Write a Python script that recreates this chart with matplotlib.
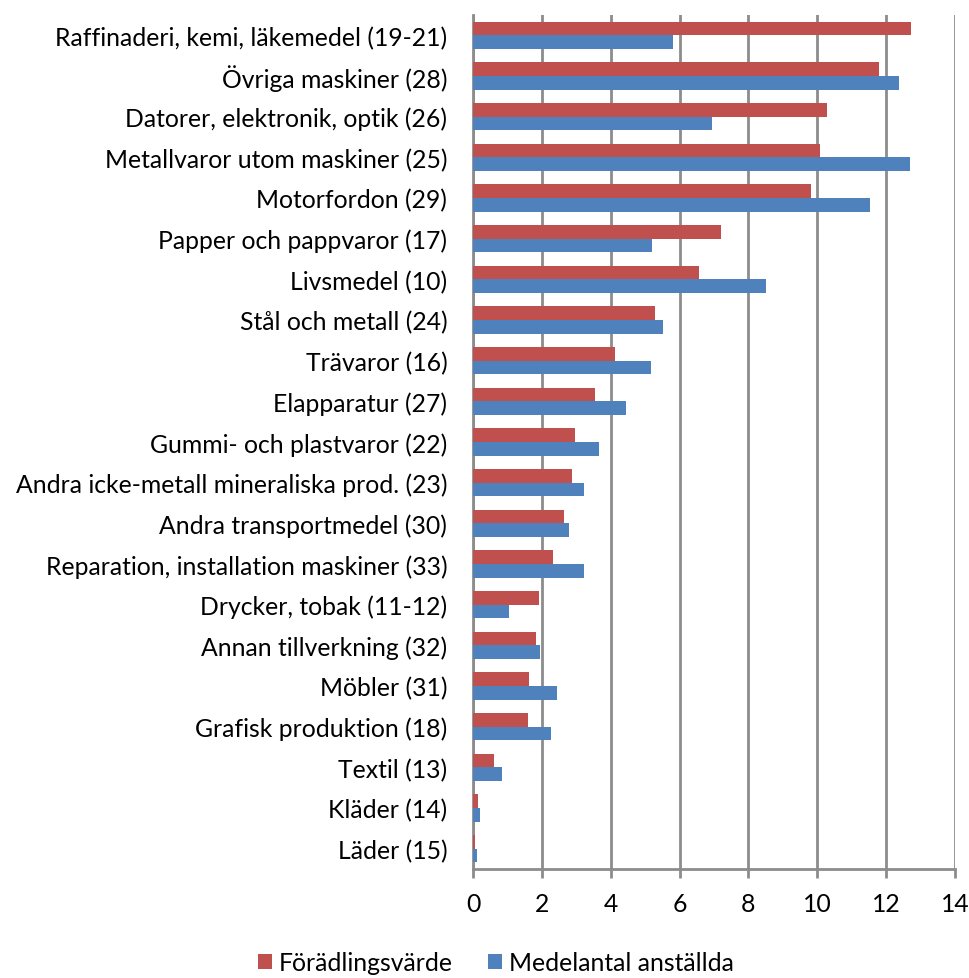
#Grouped horizontal bars: förädlingsvärde vs medelantal anställda per bransch
import numpy as np
import matplotlib
matplotlib.use("Agg")
import matplotlib.pyplot as plt

plt.rcParams['font.family'] = ['Lato', 'DejaVu Sans']

branscher = [
    "Raffinaderi, kemi, läkemedel (19-21)",
    "Övriga maskiner (28)",
    "Datorer, elektronik, optik (26)",
    "Metallvaror utom maskiner (25)",
    "Motorfordon (29)",
    "Papper och pappvaror (17)",
    "Livsmedel (10)",
    "Stål och metall (24)",
    "Trävaror (16)",
    "Elapparatur (27)",
    "Gummi- och plastvaror (22)",
    "Andra icke-metall mineraliska prod. (23)",
    "Andra transportmedel (30)",
    "Reparation, installation maskiner (33)",
    "Drycker, tobak (11-12)",
    "Annan tillverkning (32)",
    "Möbler (31)",
    "Grafisk produktion (18)",
    "Textil (13)",
    "Kläder (14)",
    "Läder (15)",
]
foradlingsvarde = [12.72, 11.79, 10.27, 10.09, 9.83, 7.20, 6.55, 5.28, 4.11, 3.55,
                   2.96, 2.89, 2.65, 2.32, 1.93, 1.83, 1.63, 1.60, 0.60, 0.145, 0.07]
anstallda = [5.82, 12.38, 6.94, 12.68, 11.54, 5.19, 8.52, 5.51, 5.17, 4.45,
             3.65, 3.21, 2.79, 3.22, 1.06, 1.96, 2.44, 2.28, 0.85, 0.19, 0.12]
x_ticks = [0, 2, 4, 6, 8, 10, 12, 14]

red = "#C0504D"
blue = "#4F81BD"
grid_col = "#8C8C8C"

fig = plt.figure(figsize=(9.7, 9.79), dpi=100)
ax = fig.add_axes([473 / 970, 1 - 870 / 979, 482 / 970, 854 / 979])

y = np.arange(len(branscher))
h = 0.335
ax.barh(y - h / 2, foradlingsvarde, height=h, color=red, label="Förädlingsvärde", zorder=3)
ax.barh(y + h / 2, anstallda, height=h, color=blue, label="Medelantal anställda", zorder=3)

ax.set_ylim(len(branscher) - 0.5, -0.5)
ax.set_xlim(0, 14)
ax.set_xticks(x_ticks)
ax.set_yticks(y)
ax.set_yticklabels(branscher, fontsize=17.8)
ax.tick_params(axis='x', labelsize=17.8, length=6.5, width=2, color=grid_col, pad=10)
ax.tick_params(axis='y', length=0, pad=18.5)

ax.grid(axis='x', color=grid_col, linewidth=2, zorder=0)
for side in ["top", "right"]:
    ax.spines[side].set_visible(False)
for side in ["left", "bottom"]:
    ax.spines[side].set_color(grid_col)
    ax.spines[side].set_linewidth(2)

fig.legend(loc='center', ncol=2, frameon=False, fontsize=17.8,
           bbox_to_anchor=(0.511, 1 - 964 / 979), handlelength=0.57, handleheight=0.57,
           handletextpad=0.28, columnspacing=1.4, borderpad=0.05)

fig.savefig("out.png", dpi=100)
